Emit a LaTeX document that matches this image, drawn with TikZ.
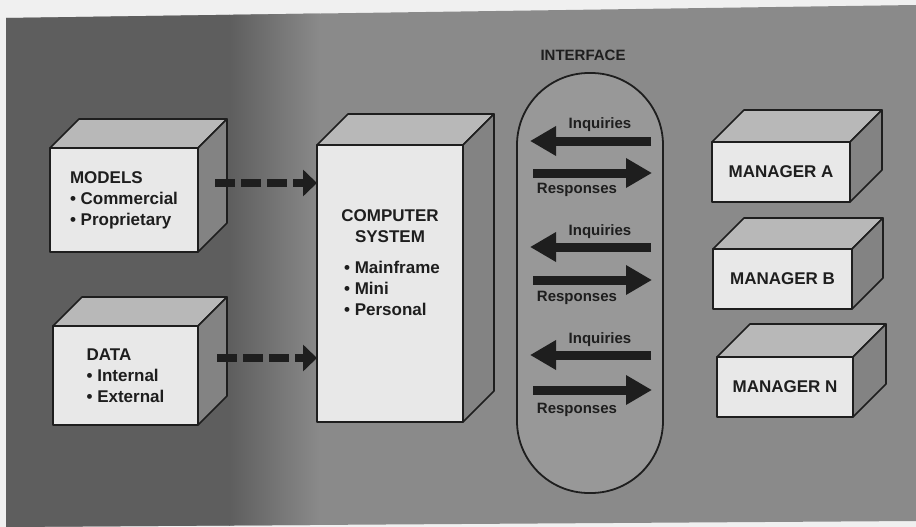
\documentclass[tikz,border=0pt]{standalone}
\usepackage{fontspec}
\setmainfont{Liberation Sans}
\usetikzlibrary{arrows.meta}

\definecolor{paper}{HTML}{F0F0F0}
\definecolor{bgdark}{HTML}{5E5E5E}
\definecolor{bgmid}{HTML}{8A8A8A}
\definecolor{ink}{HTML}{1E1E1E}
\definecolor{facefront}{HTML}{E8E8E8}
\definecolor{facetop}{HTML}{B8B8B8}
\definecolor{faceside}{HTML}{838383}
\definecolor{ifacefill}{HTML}{989898}

\newcommand\boxfont{\bfseries\fontsize{17}{21}\selectfont}
\newcommand\tagfont{\bfseries\fontsize{15}{17}\selectfont}

\tikzset{
  frontface/.style={draw=ink, fill=facefront, line width=1.6pt, inner sep=0pt,
    outer sep=0pt, align=left, font=\boxfont, text=ink, line join=round},
  topface/.style={draw=ink, fill=facetop, line width=1.6pt, line join=round},
  sideface/.style={draw=ink, fill=faceside, line width=1.6pt, line join=round},
  boxtext/.style={font=\boxfont, text=ink, inner sep=0pt},
  tagtext/.style={font=\tagfont, text=ink, inner sep=0pt},
  dasharrow/.style={draw=ink, line width=8pt, dash pattern=on 20pt off 6pt,
    -{Triangle[length=14pt,width=26pt]}},
  fatarrow/.style={draw=ink, line width=9pt,
    -{Triangle[length=26pt,width=28pt]}},
  ifaceshape/.style={draw=ink, fill=ifacefill, line width=1.8pt,
    rounded corners=72pt, minimum width=146pt, minimum height=420pt,
    inner sep=0pt, outer sep=0pt},
}

% top and right faces of a block whose front face is node #1, depth #2
\newcommand\blockfaces[2]{%
  \draw[topface] (#1.north west) -- ([shift={(#2,-#2)}]#1.north west)
    -- ([shift={(#2,-#2)}]#1.north east) -- (#1.north east) -- cycle;
  \draw[sideface] (#1.north east) -- ([shift={(#2,-#2)}]#1.north east)
    -- ([shift={(#2,-#2)}]#1.south east) -- (#1.south east) -- cycle;
}

\begin{document}
\begin{tikzpicture}[x=1pt,y=-1pt]
\useasboundingbox (0,0) rectangle (916,527);

% paper and grey backdrop, darker on the left
\fill[paper] (0,0) rectangle (916,527);
\begin{scope}
  \clip (6,18) -- (916,5) -- (916,521) -- (6,527) -- cycle;
  \fill[bgmid] (0,0) rectangle (916,527);
  \fill[bgdark] (0,0) rectangle (230,527);
  \shade[left color=bgdark, right color=bgmid] (229,0) rectangle (320,527);
\end{scope}

% MODELS block
\node[frontface, minimum width=148pt, minimum height=104pt] (models) at (124,200)
  {MODELS\\\textbullet\ Commercial\\\textbullet\ Proprietary};
\blockfaces{models}{29}

% DATA block
\node[frontface, minimum width=145pt, minimum height=99pt] (data) at (125.5,375.5)
  {DATA\\\textbullet\ Internal\\\textbullet\ External};
\blockfaces{data}{29}

% COMPUTER SYSTEM block
\node[frontface, minimum width=146pt, minimum height=277pt] (comp) at (390,283.5) {};
\blockfaces{comp}{31}
\node[boxtext, align=center] (comptitle) at (390,226) {COMPUTER\\SYSTEM};
\node[boxtext, align=left] (complist) at (392,288)
  {\textbullet\ Mainframe\\\textbullet\ Mini\\\textbullet\ Personal};

% dashed feeds into the computer
\coordinate (mfeed) at (215,183);
\coordinate (dfeed) at (217,358);
\draw[dasharrow] (mfeed) -- (mfeed -| comp.west);
\draw[dasharrow] (dfeed) -- (dfeed -| comp.west);

% INTERFACE capsule
\node[ifaceshape] (iface) at (590,283) {};
\node[tagtext] (ifacetitle) at (583,55) {INTERFACE};

% inquiry / response pairs
\foreach \i/\yi/\yr/\yli/\ylr in {1/141/173/125/190, 2/247/280/232/298, 3/355/390/340/410}{
  \coordinate (inqtail\i) at (651,\yi);
  \coordinate (inqtip\i) at (530,\yi);
  \coordinate (restail\i) at (533,\yr);
  \coordinate (restip\i) at (652,\yr);
  \draw[fatarrow] (inqtail\i) -- (inqtip\i);
  \draw[fatarrow] (restail\i) -- (restip\i);
  \node[tagtext] (inq\i) at (600,\yli) {Inquiries};
  \node[tagtext] (res\i) at (577,\ylr) {Responses};
}

% managers
\node[frontface, align=center, minimum width=138pt, minimum height=60pt] (mana) at (781,172) {MANAGER A};
\blockfaces{mana}{32}
\node[frontface, align=center, minimum width=139pt, minimum height=60pt] (manb) at (782.5,279) {MANAGER B};
\blockfaces{manb}{31}
\node[frontface, align=center, minimum width=136pt, minimum height=60pt] (mann) at (785,387) {MANAGER N};
\blockfaces{mann}{33}

\end{tikzpicture}
\end{document}
